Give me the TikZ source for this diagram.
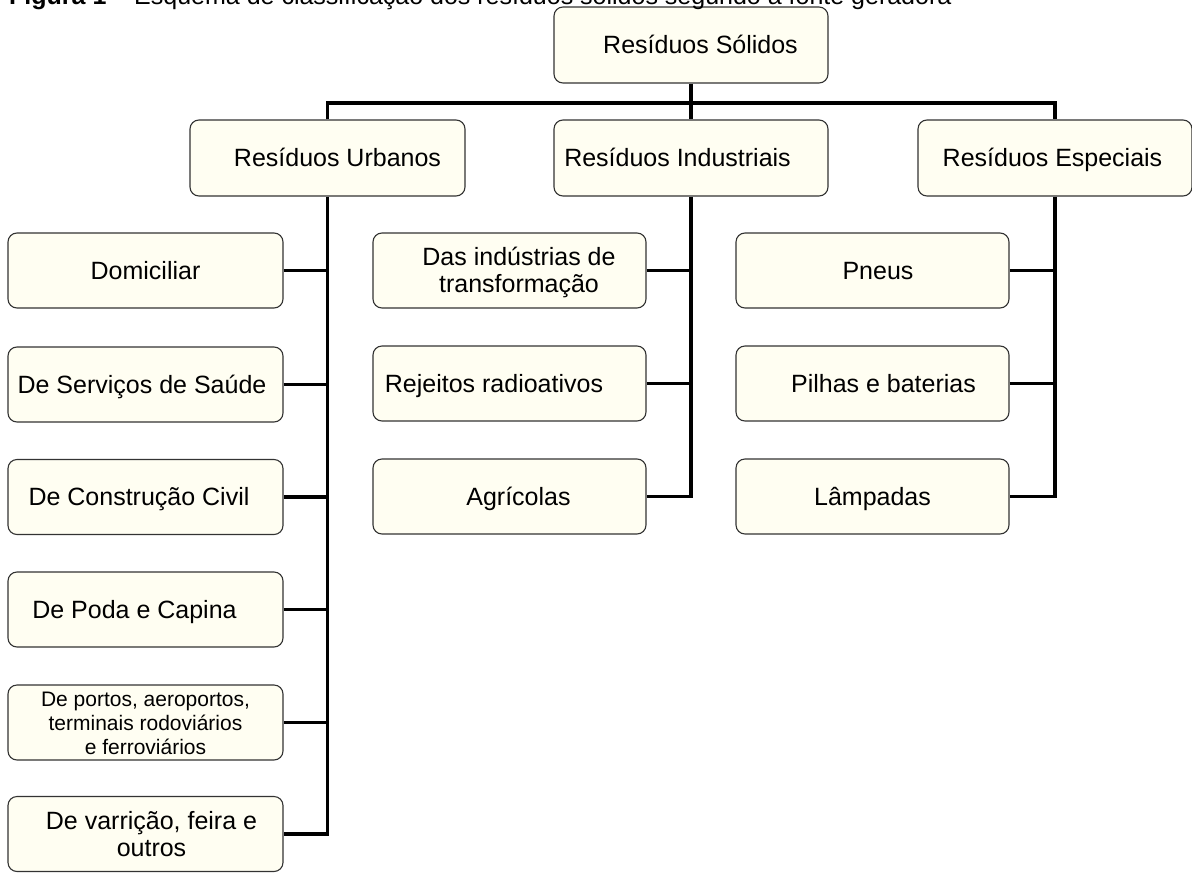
\documentclass[tikz,border=0pt]{standalone}
\usepackage{fontspec}
\setmainfont{Liberation Sans}
\definecolor{boxfill}{HTML}{FFFEF2}
\newcommand\bx[7][]{%
  \node[rbox,minimum width=#4,minimum height=#5] (#2) at (#3) {};
  \node[txt,#1] (#2t) at ([xshift=#6,yshift=-3.5pt]#2.center) {\begin{tabular}{@{}c@{}}#7\end{tabular}};}
\begin{document}
\begin{tikzpicture}[x=1pt,y=-1pt,
  rbox/.style={draw=black!80, line width=1.1pt, fill=boxfill, rounded corners=9pt, inner sep=0pt},
  txt/.style={inner sep=0pt, font=\fontsize{25}{27}\selectfont},
  conn/.style={line width=3.3pt, draw=black}]
\useasboundingbox (0,0) rectangle (1192,873);
\clip (0,0) rectangle (1192,873);
% top levels
\bx{sol}{691,45}{274pt}{76pt}{9.5pt}{Resíduos Sólidos}
\bx{urb}{327.5,158}{275pt}{76pt}{10pt}{Resíduos Urbanos}
\bx{ind}{691,158}{274pt}{76pt}{-13.5pt}{Resíduos Industriais}
\bx{esp}{1055,158}{274pt}{76pt}{-2.5pt}{Resíduos Especiais}
% urbanos
\bx{u1}{145.5,270.5}{275pt}{75pt}{0pt}{Domiciliar}
\bx{u2}{145.5,384.5}{275pt}{75pt}{-3.5pt}{De Serviços de Saúde}
\bx{u3}{145.5,497}{275pt}{75pt}{-6.5pt}{De Construção Civil}
\bx{u4}{145.5,609.5}{275pt}{75pt}{-11pt}{De Poda e Capina}
\bx[font=\fontsize{21}{24}\selectfont]{u5}{145.5,722.5}{275pt}{75pt}{0pt}{De portos, aeroportos,\\ terminais rodoviários\\ e ferroviários}
\bx{u6}{145.5,834}{275pt}{75pt}{6pt}{De varrição, feira e\\ outros}
% industriais
\bx{i1}{509.5,270.5}{273pt}{75pt}{9.5pt}{Das indústrias de\\ transformação}
\bx{i2}{509.5,383.5}{273pt}{75pt}{-15.5pt}{Rejeitos radioativos}
\bx{i3}{509.5,496.5}{273pt}{75pt}{9pt}{Agrícolas}
% especiais
\bx{e1}{872.5,270.5}{273pt}{75pt}{5.5pt}{Pneus}
\bx{e2}{872.5,383.5}{273pt}{75pt}{11pt}{Pilhas e baterias}
\bx{e3}{872.5,496.5}{273pt}{75pt}{0pt}{Lâmpadas}
% caption (cut off at the top edge, as in the source)
\node[anchor=base west, inner sep=0pt, font=\fontsize{25}{28}\selectfont] (cap) at (9,4.5) {\textbf{Figura 1} – Esquema de classificação dos resíduos sólidos segundo a fonte geradora};
% connectors
\coordinate (barR) at (1055,103);
\draw[conn] (sol.south) -- (ind.north);
\draw[conn] (urb.north) |- (barR) -- (esp.north);
\draw[conn] (urb.south) |- (u6.east);
\foreach \n in {u1,u2,u3,u4,u5} \draw[conn] (\n.east) -- (\n.east -| urb.south);
\draw[conn] (ind.south) |- (i3.east);
\foreach \n in {i1,i2} \draw[conn] (\n.east) -- (\n.east -| ind.south);
\draw[conn] (esp.south) |- (e3.east);
\foreach \n in {e1,e2} \draw[conn] (\n.east) -- (\n.east -| esp.south);
\end{tikzpicture}
\end{document}
